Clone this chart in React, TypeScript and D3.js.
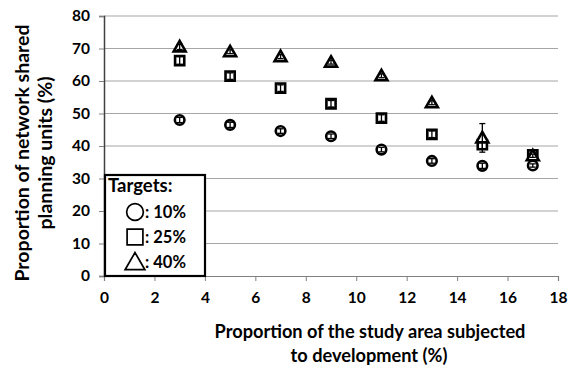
import React, { useEffect, useRef } from 'react';
import * as d3 from 'd3';

const xValues = [3, 5, 7, 9, 11, 13, 15, 17];
const target10 = [48, 46.5, 44.6, 43, 38.9, 35.4, 33.9, 34];
const target25 = [66.3, 61.5, 57.8, 53, 48.6, 43.6, 40.4, 37.3];
const target40 = [70.5, 69, 67.5, 65.8, 61.6, 53.3, 42.5, 37];
const err10 = [0.8, 0.8, 0.7, 0.7, 0.7, 0.7, 0.8, 0.5];
const err25 = [1.2, 1.0, 1.0, 1.0, 1.0, 1.0, 1.2, 0.8];
const err40 = [0.8, 0.6, 0.6, 0.6, 0.6, 0.6, 4.4, 0.5];
const xTicks = [0, 2, 4, 6, 8, 10, 12, 14, 16, 18];
const yTicks = [0, 10, 20, 30, 40, 50, 60, 70, 80];
const legendLabels = [': 10%', ': 25%', ': 40%'];

const width = 568;
const height = 368;
const margin = { top: 16, right: 10, bottom: 92, left: 104 };
const font = 'Lato, "Open Sans", sans-serif';

const App = () => {
  const svgRef = useRef<SVGSVGElement>(null);

  useEffect(() => {
    const svg = d3.select(svgRef.current);
    svg.selectAll('*').remove();

    const x = d3.scaleLinear().domain([0, 18]).range([margin.left, width - margin.right]);
    const y = d3.scaleLinear().domain([0, 80]).range([height - margin.bottom, margin.top]);

    // grid
    svg.append('g')
      .selectAll('line')
      .data(yTicks.filter(d => d > 0))
      .join('line')
      .attr('x1', x(0)).attr('x2', x(18))
      .attr('y1', d => y(d)).attr('y2', d => y(d))
      .attr('stroke', '#a6a6a6').attr('stroke-width', 1.2);

    // axes
    const yAxis = d3.axisLeft(y).tickValues(yTicks).tickSize(5).tickPadding(9);
    const gy = svg.append('g').attr('transform', `translate(${x(0)},0)`).call(yAxis);
    gy.select('.domain').attr('stroke', '#404040').attr('stroke-width', 1.5);
    gy.selectAll('.tick line').attr('stroke', '#808080');
    gy.selectAll('.tick text')
      .attr('font-family', font).attr('font-weight', 'bold')
      .attr('font-size', 15.5).attr('fill', '#000');

    const xAxis = d3.axisBottom(x).tickValues(xTicks).tickSize(5).tickPadding(11);
    const gx = svg.append('g').attr('transform', `translate(0,${y(0)})`).call(xAxis);
    gx.select('.domain').attr('stroke', '#808080').attr('stroke-width', 1.2);
    gx.selectAll('.tick line').attr('stroke', '#808080');
    gx.selectAll('.tick text')
      .attr('font-family', font).attr('font-weight', 'bold')
      .attr('font-size', 15.5).attr('fill', '#000');

    // titles
    const xt = svg.append('text')
      .attr('font-family', font).attr('font-weight', 'bold').attr('font-size', 18.2)
      .attr('text-anchor', 'middle');
    xt.append('tspan').attr('x', 370).attr('y', 338).text('Proportion of the study area subjected');
    xt.append('tspan').attr('x', 369).attr('y', 362).text('to development (%)');

    const yt = svg.append('text')
      .attr('font-family', font).attr('font-weight', 'bold').attr('font-size', 19.5)
      .attr('text-anchor', 'middle')
      .attr('transform', 'translate(0,153) rotate(-90)');
    yt.append('tspan').attr('x', 0).attr('y', 29).text('Proportion of network shared');
    yt.append('tspan').attr('x', 0).attr('y', 52).text('planning units (%)');

    const series = [
      { vals: target10, errs: err10, shape: 'circle' },
      { vals: target25, errs: err25, shape: 'square' },
      { vals: target40, errs: err40, shape: 'triangle' },
    ];

    const symbolFor = (s: string) =>
      s === 'circle' ? d3.symbolCircle : s === 'square' ? d3.symbolSquare : d3.symbolTriangle;
    const sizeFor = (s: string) => (s === 'circle' ? 72 : s === 'square' ? 84 : 62);

    series.forEach(s => {
      const g = svg.append('g');
      const pts = xValues.map((xv, i) => ({ x: xv, v: s.vals[i], e: s.errs[i] }));
      g.selectAll('path.m')
        .data(pts)
        .join('path')
        .attr('class', 'm')
        .attr('transform', d => `translate(${x(d.x)},${y(d.v) + (s.shape === 'triangle' ? 1 : 0)})`)
        .attr('d', d3.symbol(symbolFor(s.shape), sizeFor(s.shape))())
        .attr('fill', '#fff').attr('stroke', '#000').attr('stroke-width', 2.6);
      // error bars
      g.selectAll('line.e')
        .data(pts)
        .join('line')
        .attr('class', 'e')
        .attr('x1', d => x(d.x)).attr('x2', d => x(d.x))
        .attr('y1', d => y(d.v - d.e)).attr('y2', d => y(d.v + d.e))
        .attr('stroke', '#000').attr('stroke-width', 1.3);
      g.selectAll('line.c')
        .data(pts.flatMap(d => [d.v - d.e, d.v + d.e].map(v => ({ x: d.x, v }))))
        .join('line')
        .attr('class', 'c')
        .attr('x1', d => x(d.x) - 3).attr('x2', d => x(d.x) + 3)
        .attr('y1', d => y(d.v)).attr('y2', d => y(d.v))
        .attr('stroke', '#000').attr('stroke-width', 1.3);
    });

    // legend
    const lg = svg.append('g');
    lg.append('rect')
      .attr('x', 105).attr('y', 175).attr('width', 100).attr('height', 101)
      .attr('fill', '#fff').attr('stroke', '#000').attr('stroke-width', 2.2);
    lg.append('text')
      .attr('x', 108).attr('y', 192)
      .attr('font-family', font).attr('font-weight', 'bold').attr('font-size', 18.5)
      .text('Targets:');
    ['circle', 'square', 'triangle'].forEach((shape, i) => {
      const cy = 212 + i * 25;
      lg.append('path')
        .attr('transform', `translate(135,${cy + (shape === 'triangle' ? 2 : 0)})`)
        .attr('d', d3.symbol(symbolFor(shape), shape === 'circle' ? 220 : shape === 'square' ? 250 : 170)())
        .attr('fill', 'none').attr('stroke', '#000').attr('stroke-width', 1.7);
      lg.append('text')
        .attr('x', 145).attr('y', cy + 6)
        .attr('font-family', font).attr('font-weight', 'bold').attr('font-size', 16.5)
        .text(legendLabels[i]);
    });
  }, []);

  return (
    <svg ref={svgRef} width={width} height={height}
      style={{ position: 'absolute', left: 0, top: 0, background: '#fff' }} />
  );
};

export default App;
